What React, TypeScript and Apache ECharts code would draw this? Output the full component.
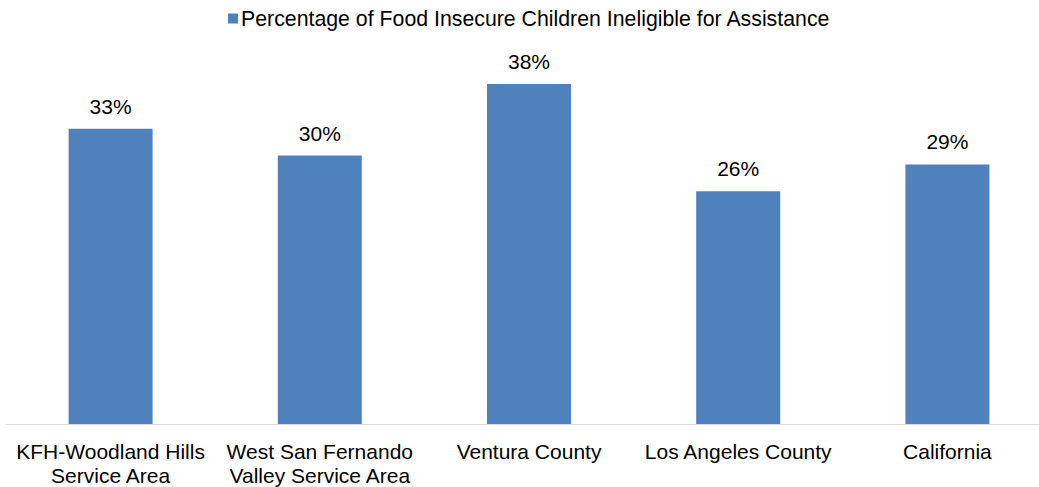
import React, { useEffect, useRef } from "react";
import * as echarts from "echarts";

const categories = [
  "KFH-Woodland Hills\nService Area",
  "West San Fernando\nValley Service Area",
  "Ventura County",
  "Los Angeles County",
  "California",
];
const seriesName = "Percentage of Food Insecure Children Ineligible for Assistance";
const values = [33, 30, 38, 26, 29];

export default function App() {
  const ref = useRef<HTMLDivElement>(null);
  useEffect(() => {
    if (!ref.current) return;
    const chart = echarts.init(ref.current, undefined, { renderer: "svg" });
    const font = "Arial, 'Liberation Sans', sans-serif";
    chart.setOption({
      animation: false,
      textStyle: { fontFamily: font },
      legend: {
        data: [seriesName],
        top: 3,
        left: 223,
        itemWidth: 10,
        itemHeight: 10,
        itemGap: 6,
        icon: "rect",
        textStyle: { fontSize: 21.3, color: "#000", fontFamily: font, padding: [0, 0, 0, -2] },
      },
      grid: { left: 6, width: 1046, top: 66, bottom: 63, containLabel: false },
      xAxis: {
        type: "category",
        data: categories,
        axisLine: { lineStyle: { color: "#D9D9D9", width: 1 } },
        axisTick: { show: false },
        axisLabel: {
          fontSize: 21,
          color: "#000",
          fontFamily: font,
          lineHeight: 24,
          margin: 15,
          interval: 0,
        },
      },
      yAxis: {
        type: "value",
        min: 0,
        max: 40,
        show: false,
        splitLine: { show: false },
      },
      series: [
        {
          name: seriesName,
          type: "bar",
          data: values,
          barWidth: 84,
          itemStyle: { color: "#4F81BD" },
          label: {
            show: true,
            position: "top",
            distance: 12,
            formatter: "{c}%",
            fontSize: 21,
            color: "#000",
            fontFamily: font,
          },
        },
      ],
    });
    return () => chart.dispose();
  }, []);
  return (
    <div
      ref={ref}
      style={{ position: "fixed", left: 0, top: 0, width: 1060, height: 487, background: "#fff" }}
    />
  );
}
